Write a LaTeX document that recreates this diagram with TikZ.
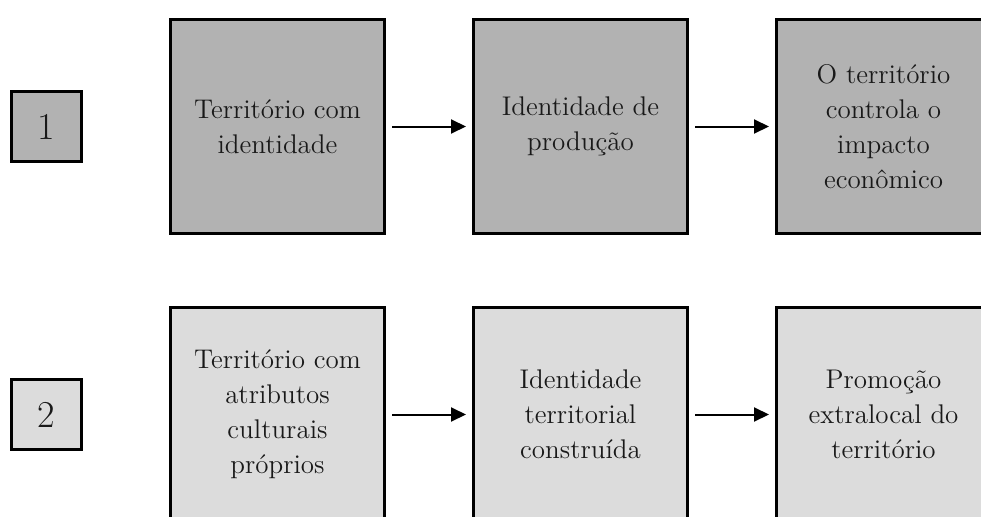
\documentclass[tikz,border=0pt]{standalone}
\usepackage{fontspec}
\usepackage{xcolor}
\usepackage{tikz}
\usetikzlibrary{positioning, arrows.meta}
\definecolor{rowone}{RGB}{178,178,178}
\definecolor{rowtwo}{RGB}{220,220,220}
\tikzset{
	>={Triangle[length=7.5pt,width=7pt]},
	node distance=43pt,
	align=center,
	box/.style={draw, line width=1.5pt, minimum width=107pt, minimum height=107pt, inner sep=2pt, text=black!90, font=\fontsize{13.5}{17.5}\selectfont},
	numbox/.style={draw, line width=1.5pt, minimum size=35pt, text=black!90, font=\fontsize{19}{20}\selectfont},
	link/.style={->, line width=1pt, shorten <=3pt, shorten >=3pt}
}
\begin{document}
\begin{tikzpicture}
	\path[use as bounding box, clip] (0,0) rectangle (490.5pt,258pt);
%	first row
	\node[numbox, fill=rowone] at (23.25pt,194.75pt) (n1) {1};
	\node[box, fill=rowone, right=of n1] (a1) {Território com\\identidade};
	\node[box, fill=rowone, right=of a1] (b1) {Identidade de\\produção};
	\node[box, fill=rowone, right=of b1] (c1) {O território\\controla o\\impacto\\econômico};
%	second row
	\node[numbox, fill=rowtwo] at (23.25pt,50.75pt) (n2) {2};
	\node[box, fill=rowtwo, right=of n2] (a2) {Território com\\atributos\\culturais\\próprios};
	\node[box, fill=rowtwo, right=of a2] (b2) {Identidade\\territorial\\construída};
	\node[box, fill=rowtwo, right=of b2] (c2) {Promoção\\extralocal do\\território};
	\draw
	(a1) edge[link] (b1)
	(b1) edge[link] (c1)
	(a2) edge[link] (b2)
	(b2) edge[link] (c2)
	;
\end{tikzpicture}
\end{document}
